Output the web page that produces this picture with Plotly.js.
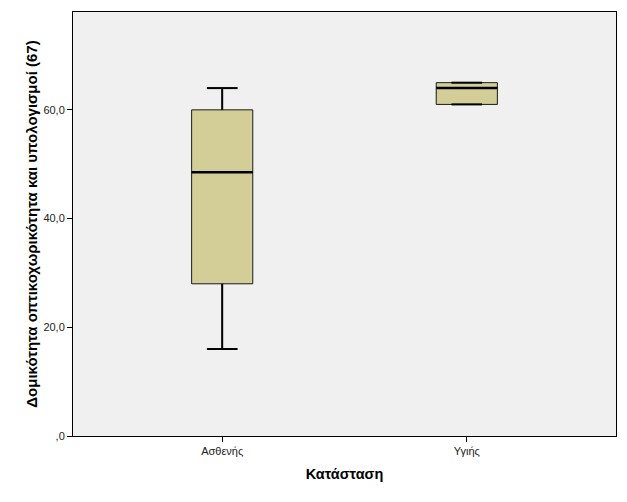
<!DOCTYPE html>
<html><head><meta charset="utf-8">
<script src="https://cdn.plot.ly/plotly-3.0.1.min.js"></script>
<style>html,body{margin:0;padding:0;background:#fff}</style>
</head><body><div id="chart" style="width:627px;height:502px"></div>
<script>
var categories = ["Ασθενής", "Υγιής"];
var lowerWhisker = [16, 61];
var q1 = [28, 61];
var median = [48.5, 64];
var q3 = [60, 65];
var upperWhisker = [64, 65];
var yTickVals = [0, 20, 40, 60];
var yTickText = [",0", "20,0", "40,0", "60,0"];

var boxWidth = 0.25;
var capHalf = boxWidth * 0.5 / 2;
var trace = {
  type: "box",
  x: categories,
  q1: q1, median: median, q3: q3,
  lowerfence: lowerWhisker, upperfence: upperWhisker,
  fillcolor: "#D3CE97",
  line: {color: "#1a1a1a", width: 1},
  width: boxWidth,
  whiskerwidth: 0.5,
  boxpoints: false,
  hoverinfo: "skip",
  showlegend: false
};
var shapes = [];
categories.forEach(function(c, i){
  var ln = {color: "#000000", width: 2};
  shapes.push({type: "line", xref: "x", yref: "y", x0: i, x1: i, y0: q3[i], y1: upperWhisker[i], line: ln});
  shapes.push({type: "line", xref: "x", yref: "y", x0: i, x1: i, y0: lowerWhisker[i], y1: q1[i], line: ln});
  shapes.push({type: "line", xref: "x", yref: "y", x0: i - capHalf, x1: i + capHalf, y0: upperWhisker[i], y1: upperWhisker[i], line: ln});
  shapes.push({type: "line", xref: "x", yref: "y", x0: i - capHalf, x1: i + capHalf, y0: lowerWhisker[i], y1: lowerWhisker[i], line: ln});
  shapes.push({type: "line", xref: "x", yref: "y", x0: i - boxWidth/2, x1: i + boxWidth/2, y0: median[i], y1: median[i],
    line: {color: "#000000", width: 2.5}});
});
var font = {family: "Liberation Sans, Arial, sans-serif", color: "#000"};
var layout = {
  width: 627, height: 502,
  margin: {l: 73, r: 11, t: 12, b: 66},
  paper_bgcolor: "#ffffff",
  plot_bgcolor: "#F0F0F0",
  font: font,
  shapes: shapes,
  xaxis: {
    type: "category", range: [-0.61, 1.61],
    showline: true, linecolor: "#000", linewidth: 1, mirror: true,
    ticks: "outside", ticklen: 5, tickcolor: "#000",
    showgrid: false, zeroline: false,
    tickfont: {size: 11, family: font.family, color: "#222"},
    title: {text: "<b>Κατάσταση</b>", font: {size: 14.5, family: font.family, color: "#000"}, standoff: 12}
  },
  yaxis: {
    range: [0, 78],
    tickvals: yTickVals, ticktext: yTickText,
    showline: true, linecolor: "#000", linewidth: 1, mirror: true,
    ticks: "outside", ticklen: 5, tickcolor: "#000",
    showgrid: false, zeroline: false,
    tickfont: {size: 11, family: font.family, color: "#222"},
    title: {text: "<b>Δομικότητα οπτικοχωρικότητα και υπολογισμοί (67)</b>", font: {size: 15, family: font.family, color: "#000"}, standoff: 2}
  }
};
Plotly.newPlot("chart", [trace], layout, {displayModeBar: false, staticPlot: true});
</script></body></html>
